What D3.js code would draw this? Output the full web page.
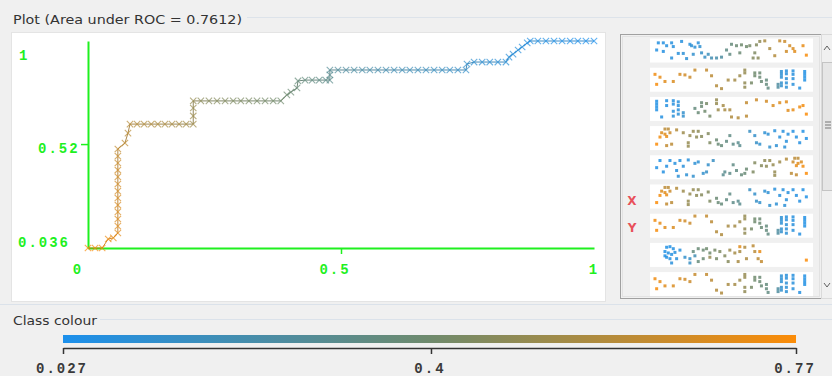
<!DOCTYPE html>
<html><head><meta charset="utf-8">
<script src="https://cdn.jsdelivr.net/npm/d3@7"></script>
<style>body{margin:0;background:#f0f0f0;overflow:hidden} svg{display:block}</style>
</head><body><svg id="c" width="832" height="376"></svg>
<script>
// ---------------- DATA ----------------
const title = "Plot (Area under ROC = 0.7612)";
const legendTitle = "Class colour";
// ROC curve points (false positive rate, true positive rate, threshold)
const fpr = [0.000,0.014,0.028,0.040,0.050,0.059,
  0.059,0.059,0.059,0.059,0.059,0.059,0.059,0.059,0.059,0.059,0.059,0.059,
  0.073,0.079,0.083,
  0.097,0.111,0.125,0.138,0.152,0.166,0.180,0.194,0.208,
  0.208,0.208,0.208,
  0.223,0.239,0.255,0.271,0.287,0.302,0.318,0.334,0.350,0.366,0.381,
  0.393,0.401,0.413,0.415,
  0.429,0.443,0.457,0.470,0.478,
  0.478,0.478,
  0.494,0.510,0.526,0.542,0.557,0.573,0.589,0.605,0.621,0.636,0.652,0.668,0.684,0.700,0.715,0.731,0.747,
  0.749,
  0.763,0.779,0.794,0.810,0.826,
  0.832,0.840,0.850,0.858,0.868,0.874,
  0.889,0.905,0.921,0.937,0.953,0.968,0.984,1.000];
const tpr = [0.036,0.036,0.036,0.078,0.083,0.106,
  0.138,0.171,0.204,0.236,0.269,0.301,0.334,0.367,0.399,0.432,0.464,0.497,
  0.525,0.571,0.613,
  0.613,0.613,0.613,0.613,0.613,0.613,0.613,0.613,0.613,
  0.651,0.688,0.721,
  0.721,0.721,0.721,0.721,0.721,0.721,0.721,0.721,0.721,0.721,0.721,
  0.749,0.762,0.781,0.814,
  0.818,0.818,0.818,0.818,0.818,
  0.842,0.865,
  0.865,0.865,0.865,0.865,0.865,0.865,0.865,0.865,0.865,0.865,0.865,0.865,0.865,0.865,0.865,0.865,0.865,
  0.893,
  0.902,0.902,0.902,0.902,0.902,
  0.925,0.939,0.958,0.972,0.991,1.000,
  1.000,1.000,1.000,1.000,1.000,1.000,1.000,1.000];
const thresholds = [0.77,0.76,0.75,0.73,0.72,0.70,
  0.69,0.685,0.68,0.675,0.67,0.665,0.66,0.655,0.65,0.64,0.63,0.62,
  0.61,0.60,0.59,
  0.58,0.575,0.57,0.565,0.56,0.55,0.545,0.54,0.53,
  0.52,0.51,0.50,
  0.47,0.46,0.455,0.45,0.44,0.435,0.43,0.42,0.415,0.41,0.40,
  0.39,0.38,0.37,0.36,
  0.35,0.34,0.33,0.32,0.31,
  0.30,0.28,
  0.26,0.25,0.24,0.23,0.22,0.21,0.20,0.19,0.18,0.175,0.17,0.16,0.155,0.15,0.14,0.135,0.13,
  0.12,
  0.11,0.105,0.10,0.095,0.09,
  0.085,0.08,0.075,0.07,0.065,0.06,
  0.055,0.05,0.045,0.04,0.036,0.033,0.03,0.027];
const xTicks = [0, 0.5, 1];
const xTickLabels = ["0", "0.5", "1"];
const yTicks = [0.036, 0.52, 1];
const yTickLabels = ["0.036", "0.52", "1"];
const colourTicks = [0.027, 0.4, 0.77];
const colourTickLabels = ["0.027", "0.4", "0.77"];
const axisSideLabels = ["X", "Y"];
// attribute preview thumbnails: [x, y, class value] in thumbnail units (0..490 x 0..70)
const thumbA = [[25,10,0.06],[40,10,0.06],[65,10,0.07],[95,5,0.07],[120,15,0.08],[145,10,0.08],[20,35,0.06],[40,40,0.06],[50,20,0.07],[70,23,0.07],[85,47,0.08],[100,47,0.09],[125,20,0.1],[135,25,0.1],[150,23,0.11],[65,63,0.08],[110,65,0.1],[130,50,0.12],[155,45,0.14],[165,60,0.15],[175,50,0.17],[185,63,0.2],[200,63,0.22],[215,60,0.25],
  [230,35,0.33],[245,15,0.36],[260,20,0.38],[275,17,0.4],[290,23,0.4],[240,50,0.34],[270,45,0.38],[300,20,0.42],[320,17,0.45],[330,5,0.48],[315,45,0.44],[310,63,0.45],[325,63,0.47],
  [345,3,0.55],[360,30,0.56],[375,55,0.58],[390,3,0.62],[405,5,0.64],[420,20,0.66],[430,30,0.68],[435,40,0.7],[460,20,0.72],[470,53,0.76],[410,40,0.65]];
const thumbB = [[15,18,0.74],[30,28,0.72],[20,53,0.76],[45,43,0.7],[70,43,0.68],[90,18,0.67],[105,20,0.66],[120,28,0.64],[135,3,0.63],[170,3,0.62],
  [185,23,0.6],[200,58,0.58],[215,68,0.57],[235,38,0.55],[255,38,0.54],[270,23,0.52],[285,3,0.5],[285,13,0.5],[285,48,0.49],[285,63,0.49],
  [305,48,0.42],[315,13,0.4],[315,23,0.4],[330,13,0.38],[330,28,0.38],[335,43,0.37],[350,38,0.35],[350,53,0.35],[355,66,0.34],[385,53,0.25],[385,63,0.25],
  [395,8,0.1],[395,18,0.1],[395,28,0.1],[395,48,0.12],[395,58,0.12],[410,6,0.08],[410,16,0.08],[410,33,0.09],[410,48,0.09],[410,63,0.1],[430,6,0.07],[430,18,0.07],[430,33,0.08],[430,53,0.08],[450,66,0.06],[465,8,0.05],[465,18,0.05],[465,28,0.05],[465,38,0.05]];
const thumbC = [[20,10,0.05],[20,20,0.05],[20,30,0.05],[20,40,0.05],[50,8,0.06],[50,25,0.06],[70,8,0.07],[70,20,0.07],[85,12,0.08],[85,25,0.08],[85,40,0.08],[85,55,0.09],[70,45,0.08],[70,62,0.09],[100,50,0.12],[100,62,0.12],[35,65,0.06],
  [135,35,0.35],[145,50,0.37],[155,15,0.38],[155,28,0.38],[165,45,0.4],[170,18,0.42],[180,62,0.42],
  [200,5,0.5],[200,18,0.5],[205,40,0.52],[220,25,0.54],[225,40,0.55],[240,40,0.56],[245,65,0.57],[265,68,0.58],[290,62,0.6],
  [290,15,0.62],[320,5,0.64],[350,10,0.66],[370,25,0.68],[390,15,0.69],[415,42,0.7],[430,40,0.72],[450,30,0.74],[460,25,0.75],[470,55,0.77],[410,12,0.7]];
const thumbD = [[45,5,0.6],[55,5,0.6],[35,18,0.68],[45,23,0.7],[50,31,0.72],[30,33,0.75],[20,58,0.77],[50,63,0.62],[65,58,0.6],[60,18,0.64],[80,8,0.58],
  [100,18,0.52],[120,28,0.5],[130,13,0.5],[145,13,0.48],[140,33,0.48],[115,53,0.5],[115,65,0.5],[155,31,0.46],[175,21,0.45],[180,53,0.44],
  [200,43,0.38],[205,58,0.37],[215,63,0.36],[230,48,0.34],[240,28,0.33],[250,58,0.32],[265,53,0.3],[270,63,0.3],
  [300,13,0.15],[315,28,0.13],[320,53,0.14],[345,18,0.1],[355,23,0.1],[360,68,0.12],[375,11,0.08],[390,33,0.08],[400,13,0.07],[410,48,0.08],[415,23,0.07],[430,13,0.06],[440,33,0.06],[450,53,0.06],[460,13,0.05],[470,38,0.05],[330,58,0.12],[380,63,0.1],[405,68,0.09]];
const thumbE = [[50,10,0.05],[60,8,0.05],[70,15,0.06],[45,25,0.05],[55,30,0.06],[65,35,0.06],[75,28,0.07],[90,20,0.07],[50,45,0.06],[60,50,0.06],[45,40,0.05],[80,50,0.08],[65,65,0.08],[105,45,0.12],[120,50,0.14],[120,65,0.15],[135,40,0.2],
  [130,25,0.35],[145,15,0.37],[160,20,0.38],[170,15,0.4],[180,30,0.4],[195,20,0.42],[145,60,0.36],[160,50,0.38],[200,50,0.42],[210,25,0.44],[225,40,0.45],[235,60,0.46],
  [240,20,0.52],[255,30,0.54],[270,25,0.55],[285,10,0.57],[290,50,0.56],[310,5,0.6],[315,25,0.6],[325,50,0.6],[335,60,0.62],[265,60,0.55],[180,45,0.5],
  [270,8,0.7],[330,25,0.72],[470,55,0.77]];
const thumbRows = ["A","B","C","D","Dm","D","B","E","B"];

// ---------------- DRAWING ----------------
const svg = d3.select("#c");
const green = "#1ff01f";
const monoFont = "'Liberation Mono','DejaVu Sans Mono',monospace";
const sansFont = "'DejaVu Sans','Noto Sans',sans-serif";

const colour = d3.scaleLinear().domain([0.027, 0.4, 0.77])
  .range(["#1c90ec", "#6f8a6c", "#fb8c08"]).interpolate(d3.interpolateRgb);

// background
svg.append("rect").attr("width", 832).attr("height", 376).attr("fill", "#f0f0f0");
// titled border line (Plot)
svg.append("line").attr("x1", 247).attr("x2", 832).attr("y1", 17.5).attr("y2", 17.5).attr("stroke", "#dde3ea");
svg.append("text").attr("x", 13).attr("y", 24).text(title)
  .attr("font-family", sansFont).attr("font-size", 13).attr("fill", "#333")
  .attr("textLength", 229).attr("lengthAdjust", "spacingAndGlyphs");

// white plot panel
svg.append("rect").attr("x", 11.5).attr("y", 32.5).attr("width", 594).attr("height", 269)
  .attr("fill", "#fff").attr("stroke", "#e4e4e4");

const x = d3.scaleLinear().domain([0, 1]).range([88, 594]);
const y = d3.scaleLinear().domain([0.036, 1]).range([248, 41]);

// axes
const gx = svg.append("g").attr("transform", "translate(0,248)")
  .call(d3.axisBottom(x).tickValues(xTicks).tickSizeOuter(0).tickFormat(""));
gx.select(".domain").attr("stroke", green).attr("stroke-width", 2);
gx.selectAll(".tick line").attr("stroke", green).attr("stroke-width", 1.5)
  .attr("y2", d => (d > 0 && d < 1) ? 6 : 0);
const gy = svg.append("g").attr("transform", "translate(88,0)")
  .call(d3.axisLeft(y).tickValues(yTicks).tickSizeOuter(0).tickFormat(""));
gy.select(".domain").attr("stroke", green).attr("stroke-width", 2);
gy.selectAll(".tick line").attr("stroke", green).attr("stroke-width", 1.5)
  .attr("x2", d => (d > 0.04 && d < 1) ? -7 : 0);

const labelStyle = s => s.attr("font-family", monoFont).attr("font-weight", "bold")
  .attr("font-size", 14).attr("letter-spacing", 2).attr("fill", green);
// x tick labels (Weka places them slightly left of the tick)
const xLabelShift = [-10, -6, 0];
xTicks.forEach((t, i) => {
  svg.append("text").attr("x", x(t) + xLabelShift[i]).attr("y", 274)
    .attr("text-anchor", "middle").text(xTickLabels[i]).call(labelStyle);
});
const yLabelX = [18, 38, 19];
const yLabelShift = [-1, 9, 19];
yTicks.forEach((t, i) => {
  svg.append("text").attr("x", yLabelX[i]).attr("y", y(t) + yLabelShift[i])
    .text(yTickLabels[i]).call(labelStyle);
});

// ROC curve
const pts = fpr.map((f, i) => ({ f, t: tpr[i], th: thresholds[i] }));
const curve = svg.append("g");
for (let i = 0; i < pts.length - 1; i++) {
  curve.append("line")
    .attr("x1", x(pts[i].f)).attr("y1", y(pts[i].t))
    .attr("x2", x(pts[i + 1].f)).attr("y2", y(pts[i + 1].t))
    .attr("stroke", d3.color(colour(pts[i].th)).darker(0.5)).attr("stroke-width", 1).attr("opacity", 0.85);
}
const s = 3.2;
curve.selectAll("path.m").data(pts).join("path").attr("class", "m")
  .attr("d", d => {
    const cx = x(d.f), cy = y(d.t);
    return `M${cx - s},${cy - s}L${cx + s},${cy + s}M${cx - s},${cy + s}L${cx + s},${cy - s}`;
  })
  .attr("stroke", d => colour(d.th)).attr("stroke-width", 1.1).attr("fill", "none").attr("opacity", 0.7);

// right panel: attribute previews
svg.append("rect").attr("x", 620.5).attr("y", 34.5).attr("width", 201).attr("height", 264)
  .attr("fill", "#f0f0f0").attr("stroke", "#a0a0a0");
svg.append("rect").attr("x", 622.5).attr("y", 36.5).attr("width", 197).attr("height", 260)
  .attr("fill", "none").attr("stroke", "#e2e2e2");
const patterns = { A: thumbA, B: thumbB, C: thumbC, D: thumbD, E: thumbE };
const tx = d3.scaleLinear().domain([0, 490]).range([650, 813]);
const rowTop = d3.scaleLinear().domain([0, 1]).range([38.5, 67.7]);
svg.append("clipPath").attr("id", "rp").append("rect")
  .attr("x", 623).attr("y", 37).attr("width", 197).attr("height", 260);
const thumbs = svg.append("g").attr("clip-path", "url(#rp)");
thumbRows.forEach((key, r) => {
  const top = rowTop(r);
  const ty = d3.scaleLinear().domain([0, 70]).range([top + 1.5, top + 21.5]);
  thumbs.append("rect").attr("x", 650).attr("y", top).attr("width", 163).attr("height", 24).attr("fill", "#fff");
  const mirrored = key.endsWith("m");
  const data = patterns[key[0]];
  thumbs.selectAll(null).data(data).join("rect")
    .attr("x", d => tx(mirrored ? 490 - d[0] : d[0]) - 1.5)
    .attr("y", d => ty(d[1]) - 1.5)
    .attr("width", 3).attr("height", 3)
    .attr("fill", d => colour(d[2])).attr("opacity", 0.85);
});
const sideY = [200, 227];
axisSideLabels.forEach((l, i) => {
  svg.append("text").attr("x", 632).attr("y", sideY[i] + 5).attr("text-anchor", "middle")
    .text(l).attr("font-family", sansFont).attr("font-weight", "bold").attr("font-size", 12).attr("fill", "#e8505a");
});
// scrollbar
svg.append("rect").attr("x", 821.5).attr("y", 34.5).attr("width", 11).attr("height", 264)
  .attr("fill", "#f0f0f0").attr("stroke", "#dadada");
svg.append("path").attr("d", "M824,50L827,46L830,50").attr("stroke", "#606060").attr("fill", "none");
svg.append("rect").attr("x", 822.5).attr("y", 62.5).attr("width", 10).attr("height", 128)
  .attr("fill", "#e6e6e6").attr("stroke", "#c4c4c4");
[122, 125, 128].forEach(v => svg.append("line").attr("x1", 825).attr("x2", 831).attr("y1", v).attr("y2", v).attr("stroke", "#777"));
svg.append("path").attr("d", "M824,283L827,287L830,283").attr("stroke", "#606060").attr("fill", "none");

// separator lines
svg.append("line").attr("x1", 0).attr("x2", 832).attr("y1", 304.5).attr("y2", 304.5).attr("stroke", "#dbe2ea");
svg.append("line").attr("x1", 100).attr("x2", 832).attr("y1", 319.5).attr("y2", 319.5).attr("stroke", "#dbe2ea");
svg.append("text").attr("x", 13).attr("y", 325).text(legendTitle)
  .attr("font-family", sansFont).attr("font-size", 13).attr("fill", "#333")
  .attr("textLength", 84).attr("lengthAdjust", "spacingAndGlyphs");

// colour bar
const cb = d3.scaleLinear().domain([0.027, 0.77]).range([63, 796]);
const grad = svg.append("defs").append("linearGradient").attr("id", "cg")
  .attr("gradientUnits", "userSpaceOnUse").attr("x1", cb(0.027)).attr("x2", cb(0.77)).attr("y1", 0).attr("y2", 0);
d3.range(0, 1.0001, 0.05).forEach(p => {
  const v = 0.027 + p * (0.77 - 0.027);
  grad.append("stop").attr("offset", p).attr("stop-color", colour(v));
});
svg.append("rect").attr("x", cb(0.027)).attr("y", 335).attr("width", cb(0.77) - cb(0.027)).attr("height", 8)
  .attr("fill", "url(#cg)");
const gc = svg.append("g").attr("transform", "translate(0,348)")
  .call(d3.axisBottom(cb).tickValues(colourTicks).tickSize(6).tickSizeOuter(0).tickFormat(""));
gc.select(".domain").attr("stroke", "#333").attr("stroke-width", 1.5);
gc.selectAll(".tick line").attr("stroke", "#333").attr("stroke-width", 1.5);
colourTicks.forEach((t, i) => {
  svg.append("text").attr("x", cb(t) - 1).attr("y", 373).attr("text-anchor", "middle")
    .text(colourTickLabels[i]).attr("font-family", monoFont).attr("font-weight", "bold")
    .attr("font-size", 14).attr("letter-spacing", 2).attr("fill", "#3a3a3a");
});
</script></body></html>
